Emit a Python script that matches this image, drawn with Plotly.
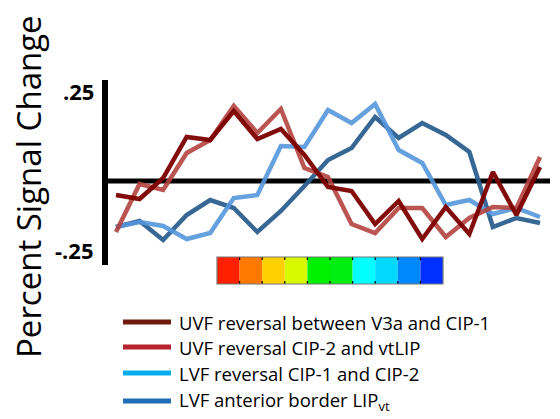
import plotly.graph_objects as go

# ---- data ----
timepoints = list(range(19))
uvf_v3a_cip1 = [-0.035, -0.045, 0.0075, 0.11, 0.1025, 0.175, 0.105, 0.13, 0.065, -0.015,
                -0.025, -0.1075, -0.05, -0.145, -0.065, -0.1325, 0.0225, -0.085, 0.035]
uvf_cip2_vtlip = [-0.1275, -0.0075, -0.0225, 0.07, 0.1025, 0.1875, 0.12, 0.18, 0.0325, 0.01,
                  -0.1075, -0.13, -0.0675, -0.0675, -0.14, -0.0925, -0.065, -0.0675, 0.06]
lvf_cip1_cip2 = [-0.115, -0.1025, -0.1125, -0.145, -0.13, -0.0425, -0.035, 0.0875, 0.085, 0.1775,
                 0.145, 0.1925, 0.0775, 0.045, -0.06, -0.0475, -0.0825, -0.0675, -0.09]
lvf_ant_lipvt = [-0.115, -0.1, -0.1475, -0.085, -0.0475, -0.0675, -0.1275, -0.075, -0.0125, 0.0525,
                 0.0825, 0.16, 0.1075, 0.145, 0.115, 0.0725, -0.115, -0.0925, -0.105]

series_names = ["UVF reversal between V3a and CIP-1", "UVF reversal CIP-2 and vtLIP",
                "LVF reversal CIP-1 and CIP-2", "LVF anterior border LIP<sub>vt</sub>"]
series_values = [uvf_v3a_cip1, uvf_cip2_vtlip, lvf_cip1_cip2, lvf_ant_lipvt]
line_colors = ["#7d0000", "#b3433f", "#5596dc", "#2d5f90"]
legend_colors = ["#6e1a0e", "#b8232f", "#0aaef0", "#1f6fb8"]
draw_order = [3, 2, 1, 0]

phase_colors = ["#ff2000", "#ff7800", "#ffd000", "#d8f800", "#00f000",
                "#00ee10", "#00ffff", "#00d8ff", "#0088ff", "#0030ff"]

y_tick_labels = [".25", "-.25"]

# ---- geometry (pixels) ----
W, H = 560, 419
L, R, T, B = 105, 550, 80, 265
x_px0, x_px1 = 116, 540
unit = (x_px1 - x_px0) / (len(timepoints) - 1)
xr = [-(x_px0 - L) / unit, (len(timepoints) - 1) + (R - x_px1) / unit]
yr = [-(B - 181) * 0.0025, (181 - T) * 0.0025]

def px(xp):
    return (xp - L) / (R - L)

def py(yp):
    return (B - yp) / (B - T)

fig = go.Figure()
for i in draw_order:
    fig.add_trace(go.Scatter(x=timepoints, y=series_values[i], mode="lines",
                             line=dict(color=line_colors[i], width=4.5),
                             opacity=0.95 if i in (0, 3) else 0.9,
                             showlegend=False, hoverinfo="skip"))

shapes = []
# y axis line
shapes.append(dict(type="line", xref="paper", yref="paper", x0=0, x1=0, y0=py(265), y1=py(80),
                   line=dict(color="black", width=6), layer="below"))
# zero line
shapes.append(dict(type="line", xref="paper", yref="y", x0=0, x1=1, y0=0, y1=0,
                   line=dict(color="black", width=5), layer="below"))

# phase colour bar
cb_x0, cb_x1, cb_y0, cb_y1 = 217, 443, 257, 284
cw = (cb_x1 - cb_x0) / len(phase_colors)
for k, c in enumerate(phase_colors):
    shapes.append(dict(type="rect", xref="paper", yref="paper",
                       x0=px(cb_x0 + k * cw), x1=px(cb_x0 + (k + 1) * cw),
                       y0=py(cb_y1), y1=py(cb_y0), fillcolor=c, line=dict(width=0)))
for k in range(1, len(phase_colors)):
    xx = px(cb_x0 + k * cw)
    shapes.append(dict(type="line", xref="paper", yref="paper", x0=xx, x1=xx,
                       y0=py(cb_y0), y1=py(cb_y0 + 3), line=dict(color="black", width=1.2)))
    shapes.append(dict(type="line", xref="paper", yref="paper", x0=xx, x1=xx,
                       y0=py(cb_y1 - 3), y1=py(cb_y1), line=dict(color="black", width=1.2)))
shapes.append(dict(type="rect", xref="paper", yref="paper", x0=px(cb_x0), x1=px(cb_x1),
                   y0=py(cb_y1), y1=py(cb_y0), line=dict(color="#777777", width=1.2)))

annotations = []
# legend
leg_y = [322, 347, 373, 401]
for name, col, yy in zip(series_names, legend_colors, leg_y):
    shapes.append(dict(type="line", xref="paper", yref="paper", x0=px(123), x1=px(171),
                       y0=py(yy), y1=py(yy), line=dict(color=col, width=5)))
    annotations.append(dict(xref="paper", yref="paper", x=px(177), y=py(yy), text=name,
                            showarrow=False, xanchor="left", yanchor="middle",
                            font=dict(family="Open Sans", size=18.5, color="black")))

# y labels
annotations.append(dict(xref="paper", yref="paper", x=px(96), y=py(91), text="<b>" + y_tick_labels[0] + "</b>",
                        showarrow=False, xanchor="right", yanchor="middle",
                        font=dict(family="Open Sans", size=22, color="black")))
annotations.append(dict(xref="paper", yref="paper", x=px(96), y=py(250), text="<b>" + y_tick_labels[1] + "</b>",
                        showarrow=False, xanchor="right", yanchor="middle",
                        font=dict(family="Open Sans", size=22, color="black")))
annotations.append(dict(xref="paper", yref="paper", x=px(28), y=py(187), text="Percent Signal Change",
                        textangle=-90, showarrow=False, xanchor="center", yanchor="middle",
                        font=dict(family="Open Sans", size=33, color="black")))

fig.update_layout(
    width=W, height=H, margin=dict(l=L, r=W - R, t=T, b=H - B),
    paper_bgcolor="white", plot_bgcolor="white",
    xaxis=dict(range=xr, visible=False, fixedrange=True),
    yaxis=dict(range=yr, visible=False, fixedrange=True),
    shapes=shapes, annotations=annotations, showlegend=False,
)
fig.write_html("out.html", config={"displayModeBar": False})
